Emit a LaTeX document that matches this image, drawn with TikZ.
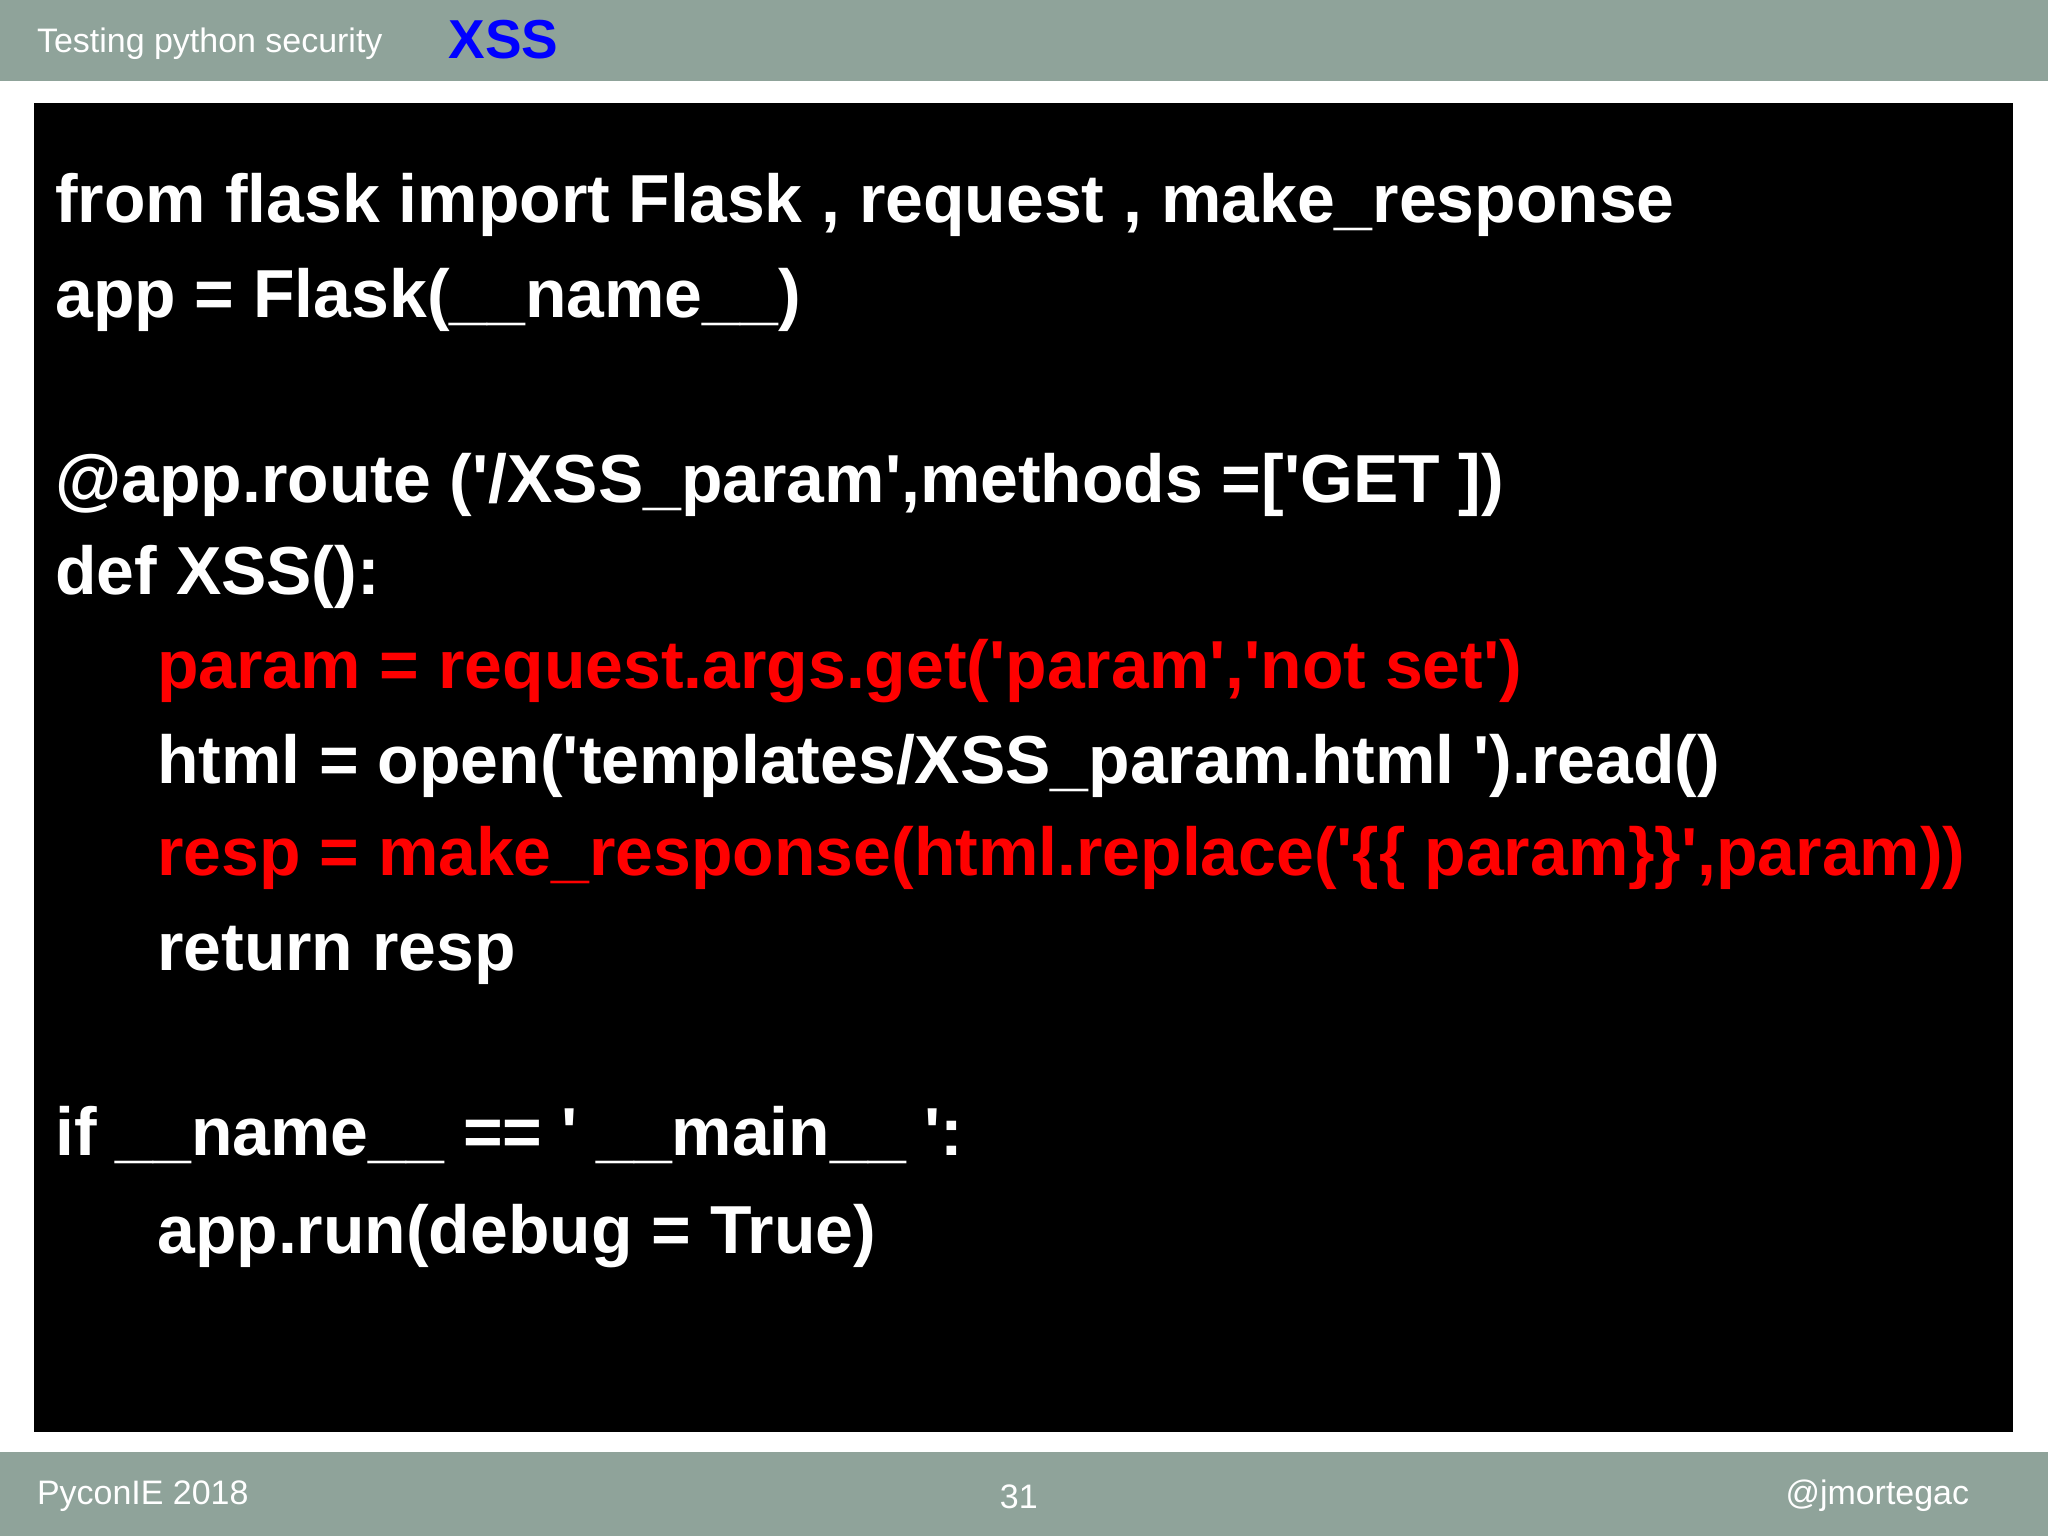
\documentclass[tikz,border=0pt]{standalone}
\usepackage{fontspec}
\setmainfont{Liberation Sans}
\definecolor{bar}{HTML}{8FA39A}
\definecolor{codered}{HTML}{FF0000}
\newcommand{\q}{\textquotesingle}
\begin{document}
\begin{tikzpicture}[x=0.5pt,y=-0.5pt,
  code/.style={anchor=base west,inner sep=0,text=white,font=\fontsize{26}{26}\selectfont\bfseries},
  red/.style={text=codered},
  foot/.style={anchor=base,inner sep=0,text=white,font=\fontsize{13}{13}\selectfont}]
\useasboundingbox (0,0) rectangle (1568,1176);
\fill[bar] (0,0) rectangle (1568,62);
\fill[bar] (0,1112) rectangle (1568,1176);
\fill[black] (26,79) rectangle (1541,1096);
\node[foot,anchor=base west] (title) at (28,40) {Testing python security};
\node[anchor=base west,inner sep=0,text=blue,font=\fontsize{21}{21}\selectfont\bfseries] (xss) at (343,45) {XSS};
\node[foot,anchor=base west] (conf) at (28,1152) {PyconIE 2018};
\node[foot] (num) at (780,1155) {31};
\node[foot,anchor=base east] (handle) at (1508,1152) {@jmortegac};
\node[code] (l1) at (42,170) {from flask import Flask , request , make\_response};
\node[code] (l2) at (42,243) {app = Flask(\_\_name\_\_)};
\node[code] (l4) at (42,385) {@app.route (\q/XSS\_param\q,methods =[\q GET ])};
\node[code] (l5) at (42,455) {def XSS():};
\node[code,red] (l6) at (120,527) {param = request.args.get(\q param\q,\q not set\q)};
\node[code] (l7) at (120,600) {html = open(\q templates/XSS\_param.html \q).read()};
\node[code,red] (l8) at (120,670) {resp = make\_response(html.replace(\q\{\{ param\}\}\q,param))};
\node[code] (l9) at (120,743) {return resp};
\node[code] (l11) at (42,885) {if \_\_name\_\_ == \q{} \_\_main\_\_ \q:};
\node[code] (l12) at (120,960) {app.run(debug = True)};
\end{tikzpicture}
\end{document}
